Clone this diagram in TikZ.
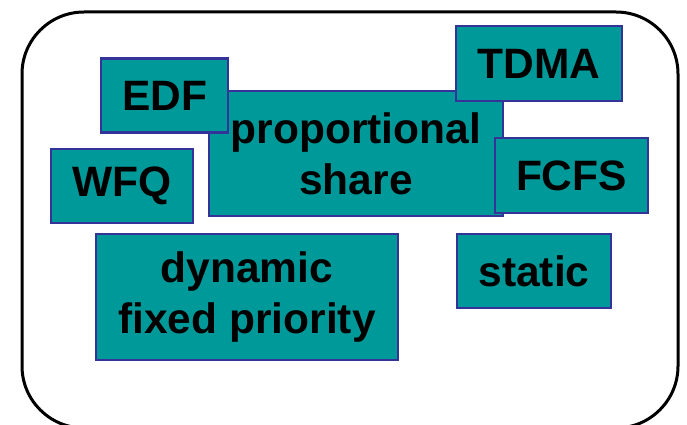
\documentclass[tikz,border=0pt]{standalone}
\usepackage{fontspec}
\setmainfont{Liberation Sans}
\usepackage{tikz}

\definecolor{boxteal}{HTML}{009999}
\definecolor{boxblue}{HTML}{333399}

\tikzset{
  sched/.style={draw=boxblue,fill=boxteal,line width=2.8pt,inner sep=0pt,
    align=center,font=\fontsize{42.5}{51}\selectfont\bfseries}
}

\begin{document}
\begin{tikzpicture}[x=1pt,y=-1pt]
\useasboundingbox (0,0) rectangle (687,425);
\draw[line width=3pt,rounded corners=62pt] (22,12) rectangle (678,428);
\node[sched,minimum width=294pt,minimum height=125pt] (prop) at (356,153.5) {proportional\\share};
\node[sched,minimum width=127pt,minimum height=74pt] (edf) at (164.5,95.5) {EDF};
\node[sched,minimum width=142pt,minimum height=74pt] (wfq) at (122,186) {WFQ};
\node[sched,minimum width=166pt,minimum height=75pt] (tdma) at (539,63.5) {TDMA};
\node[sched,minimum width=153pt,minimum height=75pt] (fcfs) at (571.5,175.5) {FCFS};
\node[sched,minimum width=154pt,minimum height=74pt] (static) at (534,271) {static};
\node[sched,minimum width=302pt,minimum height=126pt] (dyn) at (247,297) {dynamic\\fixed priority};
\end{tikzpicture}
\end{document}
